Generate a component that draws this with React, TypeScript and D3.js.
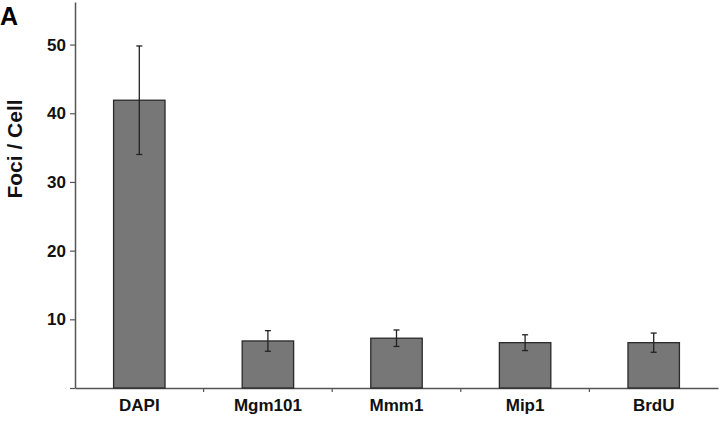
import React, { useRef, useEffect } from 'react';
import * as d3 from 'd3';

// values
const categories = ['DAPI', 'Mgm101', 'Mmm1', 'Mip1', 'BrdU'];
const means = [41.9, 6.85, 7.25, 6.6, 6.6];
const errors = [7.9, 1.5, 1.2, 1.15, 1.4];
const yTicks = [10, 20, 30, 40, 50];

export default function App() {
  const svgRef = useRef<SVGSVGElement | null>(null);

  useEffect(() => {
    const width = 720;
    const height = 422;
    const margin = { top: 2, right: 2, bottom: 34, left: 75 };

    const svg = d3.select(svgRef.current)
      .attr('width', width)
      .attr('height', height);
    svg.selectAll('*').remove();

    const x = d3.scaleBand()
      .domain(categories)
      .range([margin.left, width - margin.right])
      .paddingInner(0)
      .paddingOuter(0);

    const y = d3.scaleLinear()
      .domain([0, 56.2])
      .range([height - margin.bottom, margin.top]);

    const barW = x.bandwidth() * 0.4;
    const font = 'Liberation Sans, Arial, sans-serif';

    // y axis
    const yAxis = svg.append('g')
      .attr('transform', `translate(${margin.left},0)`)
      .call(d3.axisLeft(y).tickValues([0, ...yTicks]).tickSize(5).tickSizeOuter(0).tickFormat((d: any) => d === 0 ? '' : String(d)));
    yAxis.select('.domain').attr('stroke', '#555').attr('stroke-width', 1.5);
    yAxis.selectAll('.tick line').attr('stroke', '#555').attr('stroke-width', 1.2);
    yAxis.selectAll('.tick text')
      .attr('x', -9)
      .attr('fill', '#111')
      .style('font-family', font)
      .style('font-size', '17px')
      .style('font-weight', 'bold');

    // x axis
    const xAxis = svg.append('g')
      .attr('transform', `translate(0,${y(0)})`)
      .call(d3.axisBottom(x).tickSize(0).tickSizeOuter(0));
    xAxis.select('.domain').attr('stroke', '#555').attr('stroke-width', 1.5);
    xAxis.selectAll('.tick text')
      .attr('dy', 0)
      .attr('y', 23)
      .attr('fill', '#111')
      .style('font-family', font)
      .style('font-size', '17px')
      .style('font-weight', 'bold');

    // category separator ticks
    svg.append('g')
      .selectAll('line')
      .data(categories.slice(1))
      .enter()
      .append('line')
      .attr('x1', d => x(d)!)
      .attr('x2', d => x(d)!)
      .attr('y1', y(0))
      .attr('y2', y(0) + 4)
      .attr('stroke', '#555')
      .attr('stroke-width', 1.2);

    // bars
    svg.append('g')
      .selectAll('rect')
      .data(categories)
      .enter()
      .append('rect')
      .attr('x', d => x(d)! + x.bandwidth() / 2 - barW / 2)
      .attr('width', barW)
      .attr('y', (d, i) => y(means[i]))
      .attr('height', (d, i) => y(0) - y(means[i]))
      .attr('fill', '#777777')
      .attr('stroke', '#2a2a2a')
      .attr('stroke-width', 1.3);

    // error bars
    const eb = svg.append('g')
      .selectAll('g')
      .data(categories)
      .enter()
      .append('g')
      .attr('stroke', '#222')
      .attr('stroke-width', 1.3);
    eb.append('line')
      .attr('x1', d => x(d)! + x.bandwidth() / 2)
      .attr('x2', d => x(d)! + x.bandwidth() / 2)
      .attr('y1', (d, i) => y(means[i] + errors[i]))
      .attr('y2', (d, i) => y(means[i] - errors[i]));
    ['top', 'bottom'].forEach(end => {
      eb.append('line')
        .attr('x1', d => x(d)! + x.bandwidth() / 2 - 3)
        .attr('x2', d => x(d)! + x.bandwidth() / 2 + 3)
        .attr('y1', (d, i) => y(end === 'top' ? means[i] + errors[i] : means[i] - errors[i]))
        .attr('y2', (d, i) => y(end === 'top' ? means[i] + errors[i] : means[i] - errors[i]));
    });

    // y axis title
    svg.append('text')
      .attr('transform', `translate(22, ${y(34.8)}) rotate(-90)`)
      .attr('text-anchor', 'middle')
      .attr('fill', '#111')
      .style('font-family', font)
      .style('font-size', '21px')
      .style('font-weight', 'bold')
      .text('Foci / Cell');

    // panel letter
    svg.append('text')
      .attr('x', 0)
      .attr('y', 25)
      .attr('fill', '#000')
      .style('font-family', font)
      .style('font-size', '25px')
      .style('font-weight', 'bold')
      .text('A');
  }, []);

  return (
    <div style={{ position: 'absolute', left: 0, top: 0, background: '#fff' }}>
      <svg ref={svgRef} style={{ display: 'block' }}></svg>
    </div>
  );
}
